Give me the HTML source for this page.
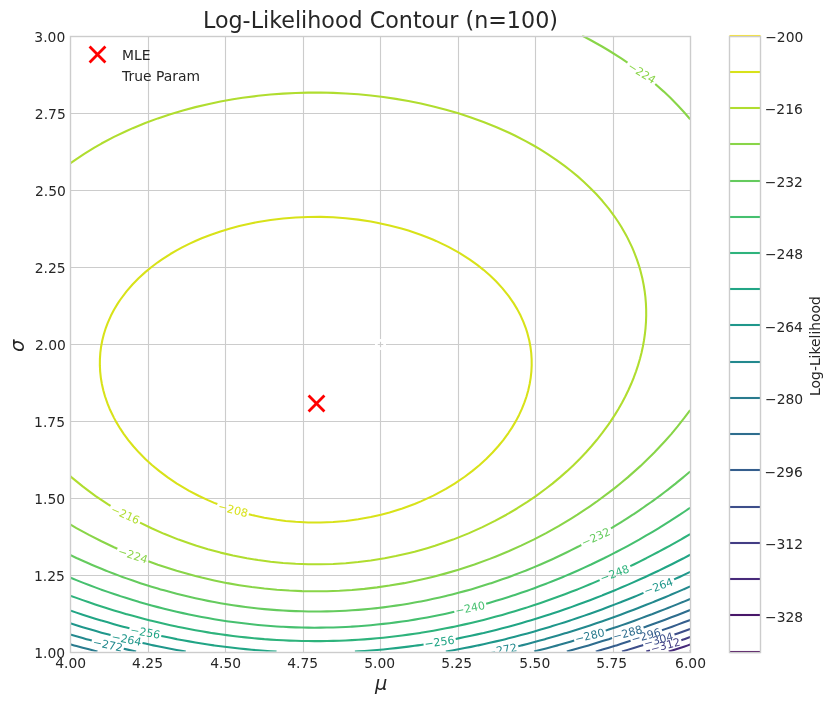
<!DOCTYPE html>
<html lang="en">
<head>
<meta charset="utf-8">
<title>Log-Likelihood Contour (n=100)</title>
<style>html,body{margin:0;padding:0;background:#fff;overflow:hidden}body{width:832px;height:705px}</style>
</head>
<body>
<svg width="832" height="705" viewBox="0 0 832 705" style="display:block;will-change:transform;font-family:'DejaVu Sans','Liberation Sans',sans-serif">
<rect width="832" height="705" fill="#fff"/>
<defs><clipPath id="ax"><rect x="70.16" y="35.6" width="620" height="616"/></clipPath></defs>
<path d="M148.5 36.5V652.5M225.5 36.5V652.5M303.5 36.5V652.5M380.5 36.5V652.5M458.5 36.5V652.5M535.5 36.5V652.5M613.5 36.5V652.5M70.5 113.5H690.5M70.5 190.5H690.5M70.5 267.5H690.5M70.5 344.5H690.5M70.5 421.5H690.5M70.5 498.5H690.5M70.5 575.5H690.5" fill="none" stroke="#ccc" stroke-width="1.11"/>
<g id="xticks">
<text x="70.76" y="667.73" font-size="13.89" text-anchor="middle" fill="#262626">4.00</text>
<text x="147.53" y="667.73" font-size="13.89" text-anchor="middle" fill="#262626">4.25</text>
<text x="225.76" y="667.73" font-size="13.89" text-anchor="middle" fill="#262626">4.50</text>
<text x="302.63" y="667.73" font-size="13.89" text-anchor="middle" fill="#262626">4.75</text>
<text x="379.76" y="667.73" font-size="13.89" text-anchor="middle" fill="#262626">5.00</text>
<text x="456.62" y="667.73" font-size="13.89" text-anchor="middle" fill="#262626">5.25</text>
<text x="534.77" y="667.73" font-size="13.89" text-anchor="middle" fill="#262626">5.50</text>
<text x="611.73" y="667.73" font-size="13.89" text-anchor="middle" fill="#262626">5.75</text>
<text x="690.53" y="667.73" font-size="13.89" text-anchor="middle" fill="#262626">6.00</text>
</g><g id="yticks">
<text x="65.17" y="657.6" font-size="13.89" text-anchor="end" fill="#262626">1.00</text>
<text x="64.95" y="580.6" font-size="13.89" text-anchor="end" fill="#262626">1.25</text>
<text x="65.15" y="503.6" font-size="13.89" text-anchor="end" fill="#262626">1.50</text>
<text x="64.98" y="426.6" font-size="13.89" text-anchor="end" fill="#262626">1.75</text>
<text x="65.95" y="349.6" font-size="13.89" text-anchor="end" fill="#262626">2.00</text>
<text x="65.71" y="272.6" font-size="13.89" text-anchor="end" fill="#262626">2.25</text>
<text x="65.96" y="195.6" font-size="13.89" text-anchor="end" fill="#262626">2.50</text>
<text x="65.77" y="118.6" font-size="13.89" text-anchor="end" fill="#262626">2.75</text>
<text x="65.26" y="41.6" font-size="13.89" text-anchor="end" fill="#262626">3.00</text>
</g>
<text transform="translate(375.04 690.91)" x="0" y="-0.48" font-size="19.44" font-style="oblique" fill="#262626">μ</text>
<text transform="translate(24.77 351.99) rotate(-90)" x="0" y="-0.48" font-size="19.44" font-style="oblique" fill="#262626">σ</text>
<g id="contours" clip-path="url(#ax)" fill="none" stroke-width="2.083" stroke-linejoin="round">
<path d="M689.84 651.6L690.16 651.49" stroke="#481769"/>
<path d="M668.68 651.6L671.37 650.72L677.63 648.67L683.9 646.65L687.84 645.38L690.16 644.58" stroke="#472a7a"/>
<path d="M646.19 651.6L646.32 651.56L649.98 650.38M681.33 640.14L683.9 639.29L684.29 639.15L690.16 637.09" stroke="#433d84"/>
<path d="M622.03 651.6L627.53 649.88L633.8 647.92L640.06 645.98L642 645.38L643.18 644.99M674.47 634.5L677.63 633.42L679.07 632.93L683.9 631.19L690.16 628.94" stroke="#3d4e8a"/>
<path d="M595.81 651.6L596.22 651.48L602.48 649.59L608.75 647.7L615.01 645.82L616.48 645.38L621.27 643.84L627.53 641.84L630.61 640.86M661.99 630.25L665.11 629.14L671.37 626.95L672.05 626.71L677.63 624.64L683.9 622.33L688.93 620.49L690.16 620.02" stroke="#355e8d"/>
<path d="M566.85 651.6L571.17 650.37L577.43 648.57L583.7 646.78L588.57 645.38L589.96 644.95L596.22 643.02L602.48 641.1L608.75 639.18L608.82 639.15L612.08 638.08M643.56 627.51L645.88 626.71L646.32 626.55L652.58 624.27L658.85 622L663.06 620.49L665.11 619.71L671.37 617.33L677.63 614.97L679.51 614.27L683.9 612.53L690.16 610.06" stroke="#2e6d8e"/>
<path d="M534.1 651.6L539.86 650.08L546.12 648.42L552.38 646.75L557.47 645.38L558.64 645.04L564.91 643.22L571.17 641.4L574.18 640.53M605.69 630.62L608.75 629.61L615.01 627.52L617.44 626.71L621.27 625.36L627.53 623.15L633.8 620.95L635.1 620.49L640.06 618.64L646.32 616.32L651.9 614.27L652.58 614L658.85 611.56L665.11 609.14L667.94 608.04L671.37 606.65L677.63 604.11L683.36 601.82L683.9 601.59L690.16 598.95M70.16 644.24L74.09 645.38L76.42 646.01L82.68 647.69L88.95 649.35L95.21 651.01L97.46 651.6" stroke="#297b8e"/>
<path d="M518.29 646.21L521.07 645.54L521.73 645.38L527.33 643.9L533.59 642.24L539.86 640.57L545.09 639.15L546.12 638.86L552.38 637.03L558.64 635.2L564.91 633.36L566.36 632.93L571.17 631.42L577.43 629.44L583.7 627.46L586.04 626.71L589.96 625.39L596.22 623.27L602.48 621.15L604.44 620.49L608.75 618.94L615.01 616.69L621.27 614.46L621.8 614.27L627.53 612.09L633.8 609.72L638.25 608.04L640.06 607.33L646.32 604.83L652.58 602.36L653.96 601.82L658.85 599.78L665.11 597.19L668.99 595.6L671.37 594.57L677.63 591.86L683.45 589.38L683.9 589.18L690.16 586.36M70.16 634.4L76.42 636.23L82.68 638.06L86.47 639.15L88.95 639.83L91.79 640.59M123.74 648.72L126.52 649.38L132.79 650.84L136.1 651.6" stroke="#23898e"/>
<path d="M445.84 651.6L445.92 651.59L452.18 650.46L458.44 649.29L464.71 648.09L470.97 646.86L477.23 645.6L478.29 645.38L483.49 644.22L489.76 642.8L496.02 641.36L502.28 639.89L505.35 639.15L508.54 638.34L514.81 636.71L521.07 635.07L527.33 633.4L529.08 632.93L533.59 631.63L539.86 629.82L546.12 627.99L550.47 626.71L552.38 626.11L558.64 624.13L564.91 622.15L570.12 620.49L571.17 620.13L577.43 618L583.7 615.87L588.39 614.27L589.96 613.7L596.22 611.42L602.48 609.15L605.53 608.04L608.75 606.81L615.01 604.4L621.27 602.01L621.75 601.82L627.53 599.47L633.8 596.95L637.15 595.6L640.06 594.37L643.49 592.91M674.13 579.4L677.63 577.8L679.55 576.93L683.9 574.85L690.16 571.88M70.16 623.26L76.42 625.24L81.08 626.71L82.68 627.19L88.95 629.02L95.21 630.84L101.47 632.65L102.47 632.93L107.74 634.34L110.61 635.1M142.5 642.96L145.31 643.6L151.57 645.01L153.27 645.38L157.84 646.31L164.1 647.55L170.36 648.77L176.62 649.95L182.89 651.09L185.75 651.6" stroke="#1f978b"/>
<path d="M354.9 651.6L358.24 651.41L364.5 650.99L370.77 650.52L377.03 650L383.29 649.43L389.55 648.8L395.82 648.12L402.08 647.4L408.34 646.63L414.6 645.81L417.77 645.38L420.87 644.92L423.59 644.49M455.69 638.95L458.44 638.39L464.71 637.09L470.97 635.75L477.23 634.39L483.49 632.99L483.73 632.93L489.76 631.45L496.02 629.89L502.28 628.3L508.46 626.71L508.54 626.69L514.81 624.93L521.07 623.16L527.33 621.37L530.36 620.49L533.59 619.49L539.86 617.54L546.12 615.58L550.27 614.27L552.38 613.56L558.64 611.43L564.91 609.31L568.61 608.04L571.17 607.12L577.43 604.84L583.7 602.56L585.72 601.82L589.96 600.18L596.22 597.76L601.81 595.6L602.48 595.32L608.75 592.75L615.01 590.2L617.02 589.38L621.27 587.54L627.53 584.85L631.49 583.15L633.8 582.11L640.06 579.29L645.32 576.93L646.32 576.46L652.58 573.51L658.58 570.71L658.85 570.58L665.11 567.5L671.31 564.49L671.37 564.46L677.63 561.26L683.58 558.27L683.9 558.1L690.16 554.79M70.16 610.5L76.42 612.63L81.28 614.27L82.68 614.71L88.95 616.68L95.21 618.64L101.17 620.49L101.47 620.58L107.74 622.37L114 624.16L120.26 625.92L123.11 626.71L126.52 627.6L129.43 628.34M161.26 635.9L164.1 636.51L170.36 637.83L176.62 639.11L176.84 639.15L182.89 640.27L189.15 641.39L195.41 642.46L201.67 643.5L207.94 644.5L213.75 645.38L214.2 645.44L220.46 646.28L226.73 647.07L232.99 647.81L239.25 648.51L245.51 649.16L251.78 649.76L258.04 650.3L264.3 650.79L270.56 651.23L276.54 651.6" stroke="#21a585"/>
<path d="M70.16 595.61L76.42 597.86L82.68 600.11L87.47 601.82L88.95 602.32L95.21 604.4L101.47 606.47L106.26 608.04L107.74 608.5L114 610.4L120.26 612.28L126.52 614.15L126.93 614.27L132.79 615.87L139.05 617.55L145.31 619.21L150.21 620.49L151.57 620.82L157.84 622.31L164.1 623.76L170.36 625.18L176.62 626.56L177.34 626.71L182.89 627.81L189.15 629.02L195.41 630.18L201.67 631.3L207.94 632.37L211.35 632.93L214.2 633.37L220.46 634.27L226.73 635.13L232.99 635.93L239.25 636.69L245.51 637.39L251.78 638.04L258.04 638.63L264.21 639.15L264.3 639.16L270.56 639.6L276.83 639.99L283.09 640.32L289.35 640.59L295.61 640.81L301.88 640.96L308.14 641.06L314.4 641.11L320.66 641.09L326.93 641.01L333.19 640.88L339.45 640.69L345.72 640.44L351.98 640.14L358.24 639.78L364.5 639.36L367.25 639.15L370.77 638.87L377.03 638.3L383.29 637.68L389.55 637L395.82 636.27L402.08 635.49L408.34 634.65L414.6 633.77L420.23 632.93L420.87 632.83L427.13 631.78L433.39 630.68L439.65 629.53L445.92 628.35L452.18 627.12L454.19 626.71L458.44 625.79L464.71 624.38L470.97 622.95L477.23 621.48L481.34 620.49L483.49 619.93L489.76 618.29L496.02 616.61L502.28 614.91L504.6 614.27L508.54 613.1L514.81 611.23L521.07 609.33L525.29 608.04L527.33 607.38L533.59 605.31L539.86 603.23L544.08 601.82L546.12 601.1L552.38 598.85L558.64 596.6L561.4 595.6L564.91 594.25L571.17 591.84L577.43 589.43L577.57 589.38L583.7 586.86L589.96 584.29L592.73 583.15L596.22 581.64L599.66 580.15M630.27 566.14L633.74 564.49L633.8 564.46L640.06 561.31L646.19 558.27L646.32 558.2L652.58 554.92L658.14 552.04L658.85 551.66L665.11 548.26L669.64 545.82L671.37 544.84L677.63 541.32L680.73 539.6L683.9 537.74L690.16 534.12" stroke="#2eb37c"/>
<path d="M70.16 577.59L76.42 580.12L82.68 582.65L83.96 583.15L88.95 585.03L95.21 587.38L100.56 589.38L101.47 589.7L107.74 591.86L114 594.02L118.65 595.6L120.26 596.12L126.52 598.08L132.79 600.03L138.63 601.82L139.05 601.94L145.31 603.7L151.57 605.43L157.84 607.13L161.3 608.04L164.1 608.74L170.36 610.24L176.62 611.71L182.89 613.14L187.99 614.27L189.15 614.51L195.41 615.75L201.67 616.94L207.94 618.09L214.2 619.18L220.46 620.23L222.11 620.49L226.73 621.16L232.99 622.03L239.25 622.84L245.51 623.59L251.78 624.28L258.04 624.92L264.3 625.49L270.56 626L276.83 626.45L281.16 626.71L283.09 626.82L289.35 627.11L295.61 627.34L301.88 627.51L308.14 627.62L314.4 627.67L320.66 627.65L326.93 627.57L333.19 627.43L339.45 627.22L345.72 626.95L350.4 626.71L351.98 626.62L358.24 626.2L364.5 625.72L370.77 625.17L377.03 624.57L383.29 623.9L389.55 623.17L395.82 622.39L402.08 621.55L408.34 620.66L409.45 620.49L414.6 619.65L420.87 618.58L427.13 617.45L433.39 616.28L439.65 615.06L443.55 614.27L445.92 613.75L452.18 612.34L454.3 611.85M486.14 603.72L489.76 602.72L492.9 601.82L496.02 600.87L502.28 598.94L508.54 596.98L512.9 595.6L514.81 594.96L521.07 592.81L527.33 590.65L530.98 589.38L533.59 588.41L539.86 586.06L546.12 583.71L547.59 583.15L552.38 581.23L558.64 578.7L563.01 576.93L564.91 576.12L571.17 573.42L577.43 570.73L577.48 570.71L583.7 567.86L589.96 565L591.08 564.49L596.22 562L602.48 558.99L603.98 558.27L608.75 555.84L615.01 552.68L616.26 552.04L621.27 549.37L627.53 546.06L627.98 545.82L633.8 542.58L639.2 539.6L640.06 539.1L646.32 535.47L649.95 533.38L652.58 531.79L658.85 528.03L660.31 527.15L665.11 524.14L670.28 520.93L671.37 520.22L677.63 516.16L679.89 514.71L683.9 512.01L689.18 508.49L690.16 507.8" stroke="#46c06f"/>
<path d="M70.16 554.95L76.42 557.94L77.11 558.27L82.68 560.75L88.95 563.55L91.08 564.49L95.21 566.21L101.47 568.81L106.09 570.71L107.74 571.35L114 573.75L120.26 576.13L122.4 576.93L126.52 578.38L132.79 580.56L139.05 582.71L140.36 583.15L145.31 584.72L151.57 586.66L157.84 588.57L160.54 589.38L164.1 590.37L170.36 592.07L176.62 593.73L182.89 595.34L183.92 595.6L189.15 596.81L195.41 598.22L201.67 599.58L207.94 600.88L212.69 601.82L214.2 602.1L220.46 603.2L226.73 604.25L232.99 605.23L239.25 606.15L245.51 607.01L251.78 607.8L253.89 608.04L258.04 608.49L264.3 609.09L270.56 609.64L276.83 610.11L283.09 610.51L289.35 610.85L295.61 611.11L301.88 611.31L308.14 611.43L314.4 611.48L320.66 611.46L326.93 611.37L333.19 611.21L339.45 610.97L345.72 610.67L351.98 610.29L358.24 609.85L364.5 609.34L370.77 608.76L377.03 608.12L377.7 608.04L383.29 607.36L389.55 606.53L395.82 605.64L402.08 604.68L408.34 603.67L414.6 602.59L418.86 601.82L420.87 601.43L427.13 600.15L433.39 598.82L439.65 597.44L445.92 596L447.62 595.6L452.18 594.44L458.44 592.8L464.71 591.12L470.97 589.4L471.04 589.38L477.23 587.5L483.49 585.57L489.76 583.61L491.19 583.15L496.02 581.51L502.28 579.34L508.54 577.15L509.16 576.93L514.81 574.79L521.07 572.4L525.46 570.71L527.33 569.94L533.59 567.35L539.86 564.75L540.48 564.49L546.12 561.98L552.38 559.19L554.43 558.27L558.64 556.26L564.91 553.28L567.5 552.04L571.17 550.19L577.43 547.03L579.81 545.82L581.32 545.02M610.97 528.4L613.08 527.15L615.01 525.96L621.27 522.09L623.15 520.93L627.53 518.09L632.8 514.71L633.8 514.03L640.06 509.81L642.03 508.49L646.32 505.47L650.91 502.27L652.58 501.04L658.85 496.48L659.45 496.04L665.11 491.74L667.65 489.82L671.37 486.88L675.57 483.6L677.63 481.9L683.2 477.38L683.9 476.79L690.16 471.49" stroke="#65cb5e"/>
<path d="M70.16 524.44L76.42 528.07L88.95 534.9L101.47 541.27L114 547.21L117.36 548.71M148.36 561.32L157.84 564.75L176.62 570.81L195.41 576.03L201.67 577.6L214.2 580.44L227.43 583.15L239.25 585.16L251.78 587.01L264.3 588.56L276.83 589.75L289.35 590.58L301.88 591.1L314.4 591.3L326.93 591.17L339.45 590.73L351.98 589.96L364.5 588.85L377.03 587.37L389.55 585.59L404.09 583.15L414.6 581.03L427.13 578.24L433.39 576.75L445.92 573.37L458.44 569.72L474.47 564.49L489.76 558.89L496.02 556.41L508.54 551.23L521.07 545.62L533.59 539.57L546.12 533.06L558.64 526.06L571.17 518.55L577.43 514.66L589.96 506.3L596.22 501.97L608.75 492.68L615.01 487.81L621.27 482.78L627.73 477.38L640.06 466.35L641.62 464.93L652.58 454.24L654.34 452.49L665.11 441.01L666 440.04L671.47 433.82L677.63 426.4L683.9 418.44L690.16 410.04M690.16 119.24L683.9 111.97L677.63 105.18L670.37 97.82L663.8 91.6L655.24 84.02M627.49 62.67L621.27 58.46L608.75 50.5L602.48 46.77L589.96 39.74L582.07 35.6L582.07 35.6" stroke="#89d548"/>
<path d="M70.16 476.1L71.61 477.38L82.68 486.36L88.95 491.15L95.65 496.04L107.74 504.14L110.55 505.93M140.05 522.66L151.57 528.27L164.1 533.84L178.58 539.6L189.15 543.33L196.53 545.82L207.94 549.21L220.46 552.61L232.99 555.48L246.89 558.27L258.04 560.04L270.56 561.68L283.09 562.94L295.61 563.81L308.14 564.27L320.66 564.31L333.19 563.94L345.72 563.17L358.24 561.99L370.77 560.43L384.66 558.27L395.82 556.07L408.34 553.26L414.6 551.72L427.13 548.19L435.01 545.82L445.92 542.11L452.99 539.6L468.55 533.38L482.42 527.15L494.95 520.93L506.4 514.71L516.96 508.49L527.33 501.88L535.88 496.04L546.12 488.5L552.44 483.6L559.94 477.38L567.01 471.15L573.67 464.93L579.94 458.71L585.86 452.49L591.43 446.27L596.68 440.04L602.48 432.65L608.75 424.02L610.6 421.38L615.01 414.61L618.47 408.93L622.02 402.71L625.29 396.49L628.33 390.27L631.11 384.04L633.8 377.48L635.96 371.6L638.03 365.38L640.06 358.44L641.47 352.93L642.83 346.71L643.97 340.49L644.87 334.27L645.55 328.04L645.99 321.82L646.19 315.6L646.16 309.38L645.89 303.15L645.37 296.93L644.6 290.71L643.59 284.49L642.33 278.27L640.06 269.35L639.03 265.82L636.96 259.6L633.8 251.34L632.01 247.15L627.53 237.88L625.86 234.71L621.27 226.77L618.43 222.27L614.21 216.04L608.75 208.69L602.48 201.05L596.22 194.07L589.96 187.65L583.7 181.7L577.43 176.15L571.17 170.95L564.91 166.07L556.59 160.04L547.3 153.82L539.86 149.18L533.59 145.51L526.14 141.38L514.81 135.55L508.54 132.56L496.02 127L483.49 121.97L470.97 117.44L458.44 113.36L445.92 109.7L433.39 106.44L420.87 103.56L408.34 101.04L395.82 98.86L383.29 97.02L370.77 95.51L358.24 94.31L345.72 93.43L333.19 92.85L320.66 92.58L308.14 92.61L295.61 92.95L283.09 93.59L270.56 94.55L258.04 95.81L242.59 97.82L232.99 99.31L220.46 101.56L207.94 104.16L195.41 107.12L182.89 110.46L170.36 114.22L157.84 118.39L145.31 123.03L132.79 128.17L126.52 130.94L114 136.91L101.47 143.53L94.35 147.6L84.25 153.82L76.42 159.03L70.16 163.47L70.16 163.47" stroke="#b0dd2f"/>
<path d="M248.82 514.26L251.78 515.02L264.3 517.67L276.83 519.79L285.61 520.93L295.61 521.83L308.14 522.45L320.66 522.51L333.19 522.02L346.06 520.93L358.24 519.25L370.77 516.98L381.01 514.71L389.55 512.4L402.36 508.49L414.6 503.93L420.87 501.37L433.39 495.59L445.92 488.85L454.61 483.6L464.71 476.76L472.15 471.15L479.63 464.93L486.42 458.71L492.59 452.49L498.19 446.27L503.27 440.04L508.54 432.8L511.98 427.6L515.7 421.38L518.98 415.15L521.88 408.93L524.37 402.71L526.51 396.49L528.27 390.27L529.65 384.04L530.69 377.82L531.37 371.6L531.68 365.38L531.64 359.15L531.22 352.93L530.44 346.71L529.28 340.49L527.33 332.93L525.77 328.04L523.39 321.82L520.6 315.6L517.32 309.38L513.57 303.15L508.54 295.9L502.28 288.11L496.02 281.31L489.76 275.26L483.49 269.81L477.23 264.86L469.87 259.6L460.1 253.38L458.44 252.39L448.93 247.15L445.92 245.61L435.98 240.93L433.39 239.8L427.13 237.21L420.6 234.71L408.34 230.56L401.4 228.49L389.55 225.4L377.03 222.68L370.77 221.53L358.24 219.64L345.72 218.24L333.19 217.33L320.66 216.91L308.14 216.96L295.61 217.49L283.09 218.5L270.56 220.01L258.04 222.02L251.78 223.23L239.25 226.07L230.19 228.49L220.46 231.44L210.99 234.71L201.67 238.32L195.41 240.99L189.15 243.89L182.59 247.15L176.62 250.39L170.36 254.02L161.69 259.6L157.84 262.29L151.57 266.97L145.31 272.11L138.57 278.27L132.48 284.49L126.52 291.37L120.26 299.75L117.98 303.15L114 309.77L110.97 315.6L107.74 322.85L105.78 328.04L103.83 334.27L102.26 340.49L101.09 346.71L100.32 352.93L99.91 359.15L99.86 365.38L100.18 371.6L100.85 377.82L101.88 384.04L103.29 390.27L105.05 396.49L107.74 404.13L109.68 408.93L114 417.87L115.86 421.38L120.26 428.67L123.7 433.82L128.29 440.04L133.35 446.27L139.05 452.6L145.31 458.9L151.9 464.93L159.41 471.15L167.71 477.38L176.91 483.6L189.15 490.84L199.08 496.04L207.94 500.14L214.2 502.86L217.37 504.09L217.37 504.09" stroke="#d8e219"/>
</g>
<rect x="70.5" y="36.5" width="620" height="616" fill="none" stroke="#ccc" stroke-width="1.39"/>
<text x="380.46" y="28.29" font-size="22.22" text-anchor="middle" fill="#262626">Log-Likelihood Contour (n=100)</text>
<g id="clabels" clip-path="url(#ax)" font-size="11.0">
<text transform="translate(651.69 652.92) rotate(-14.65)" fill="#433d84">−312</text>
<text transform="translate(644.9 647.48) rotate(-15)" fill="#3d4e8a">−304</text>
<text transform="translate(632.39 643.32) rotate(-15.16)" fill="#355e8d">−296</text>
<text transform="translate(613.91 640.58) rotate(-15.05)" fill="#2e6d8e">−288</text>
<text transform="translate(575.91 643.11) rotate(-14.14)" fill="#297b8e">−280</text>
<text transform="translate(487.85 656.57) rotate(-10.65)" fill="#23898e">−272</text>
<text transform="translate(92.17 645.51) rotate(11.53)" fill="#23898e">−272</text>
<text transform="translate(645.48 594.97) rotate(-19.43)" fill="#1f978b">−264</text>
<text transform="translate(110.96 640.01) rotate(11.16)" fill="#1f978b">−264</text>
<text transform="translate(424.96 647.71) rotate(-7.85)" fill="#21a585">−256</text>
<text transform="translate(129.75 633.2) rotate(10.78)" fill="#21a585">−256</text>
<text transform="translate(601.74 582.16) rotate(-20.14)" fill="#2eb37c">−248</text>
<text transform="translate(455.93 614.82) rotate(-11.56)" fill="#46c06f">−240</text>
<text transform="translate(583.55 546.68) rotate(-24.14)" fill="#65cb5e">−232</text>
<text transform="translate(117.33 554.21) rotate(18.03)" fill="#89d548">−224</text>
<text transform="translate(626.96 68.28) rotate(31.56)" fill="#89d548">−224</text>
<text transform="translate(109.98 511.92) rotate(24.38)" fill="#b0dd2f">−216</text>
<text transform="translate(217.45 509.57) rotate(14.49)" fill="#d8e219">−208</text>
</g>
<path d="M-6.94 6.94L6.94 -6.94M-6.94 -6.94L6.94 6.94" transform="translate(316.5 403.5)" stroke="#f00" stroke-width="2.78" stroke-linecap="square" fill="none"/>
<circle cx="380.5" cy="344.5" r="4.17" fill="none" stroke="#fff" stroke-width="2.78"/>
<path d="M-6.94 6.94L6.94 -6.94M-6.94 -6.94L6.94 6.94" transform="translate(97.5 54.5)" stroke="#f00" stroke-width="2.78" stroke-linecap="square" fill="none"/>
<text x="122.05" y="60.17" font-size="13.89" text-anchor="start" fill="#262626">MLE</text>
<text x="122.05" y="80.56" font-size="13.89" text-anchor="start" fill="#262626">True Param</text>
<g id="cbar" fill="none" stroke-width="2.083">
<path d="M729.5 652H760.5" stroke="#440154"/>
<path d="M729.5 615H760.5" stroke="#481769"/>
<path d="M729.5 579H760.5" stroke="#472a7a"/>
<path d="M729.5 543H760.5" stroke="#433d84"/>
<path d="M729.5 507H760.5" stroke="#3d4e8a"/>
<path d="M729.5 470H760.5" stroke="#355e8d"/>
<path d="M729.5 434H760.5" stroke="#2e6d8e"/>
<path d="M729.5 398H760.5" stroke="#297b8e"/>
<path d="M729.5 362H760.5" stroke="#23898e"/>
<path d="M729.5 325H760.5" stroke="#1f978b"/>
<path d="M729.5 289H760.5" stroke="#21a585"/>
<path d="M729.5 253H760.5" stroke="#2eb37c"/>
<path d="M729.5 217H760.5" stroke="#46c06f"/>
<path d="M729.5 181H760.5" stroke="#65cb5e"/>
<path d="M729.5 144H760.5" stroke="#89d548"/>
<path d="M729.5 108H760.5" stroke="#b0dd2f"/>
<path d="M729.5 72H760.5" stroke="#d8e219"/>
<path d="M729.5 36H760.5" stroke="#fde725"/>
</g>
<path d="M729.5 36.5H760.5V652.5H729.5Z" fill="none" stroke="#ccc" stroke-width="1.39"/>
<text x="765.07" y="622.36" font-size="13.89" text-anchor="start" fill="#262626">−328</text>
<text x="764.91" y="548.89" font-size="13.89" text-anchor="start" fill="#262626">−312</text>
<text x="764.62" y="477.42" font-size="13.89" text-anchor="start" fill="#262626">−296</text>
<text x="765.04" y="403.95" font-size="13.89" text-anchor="start" fill="#262626">−280</text>
<text x="764.79" y="332.48" font-size="13.89" text-anchor="start" fill="#262626">−264</text>
<text x="764.98" y="259.01" font-size="13.89" text-anchor="start" fill="#262626">−248</text>
<text x="764.8" y="186.54" font-size="13.89" text-anchor="start" fill="#262626">−232</text>
<text x="764.71" y="114.07" font-size="13.89" text-anchor="start" fill="#262626">−216</text>
<text x="765.18" y="41.6" font-size="13.89" text-anchor="start" fill="#262626">−200</text>
<text transform="translate(820.03 346.02) rotate(-90)" font-size="13.89" text-anchor="middle" fill="#262626">Log-Likelihood</text>
</svg>
</body>
</html>
